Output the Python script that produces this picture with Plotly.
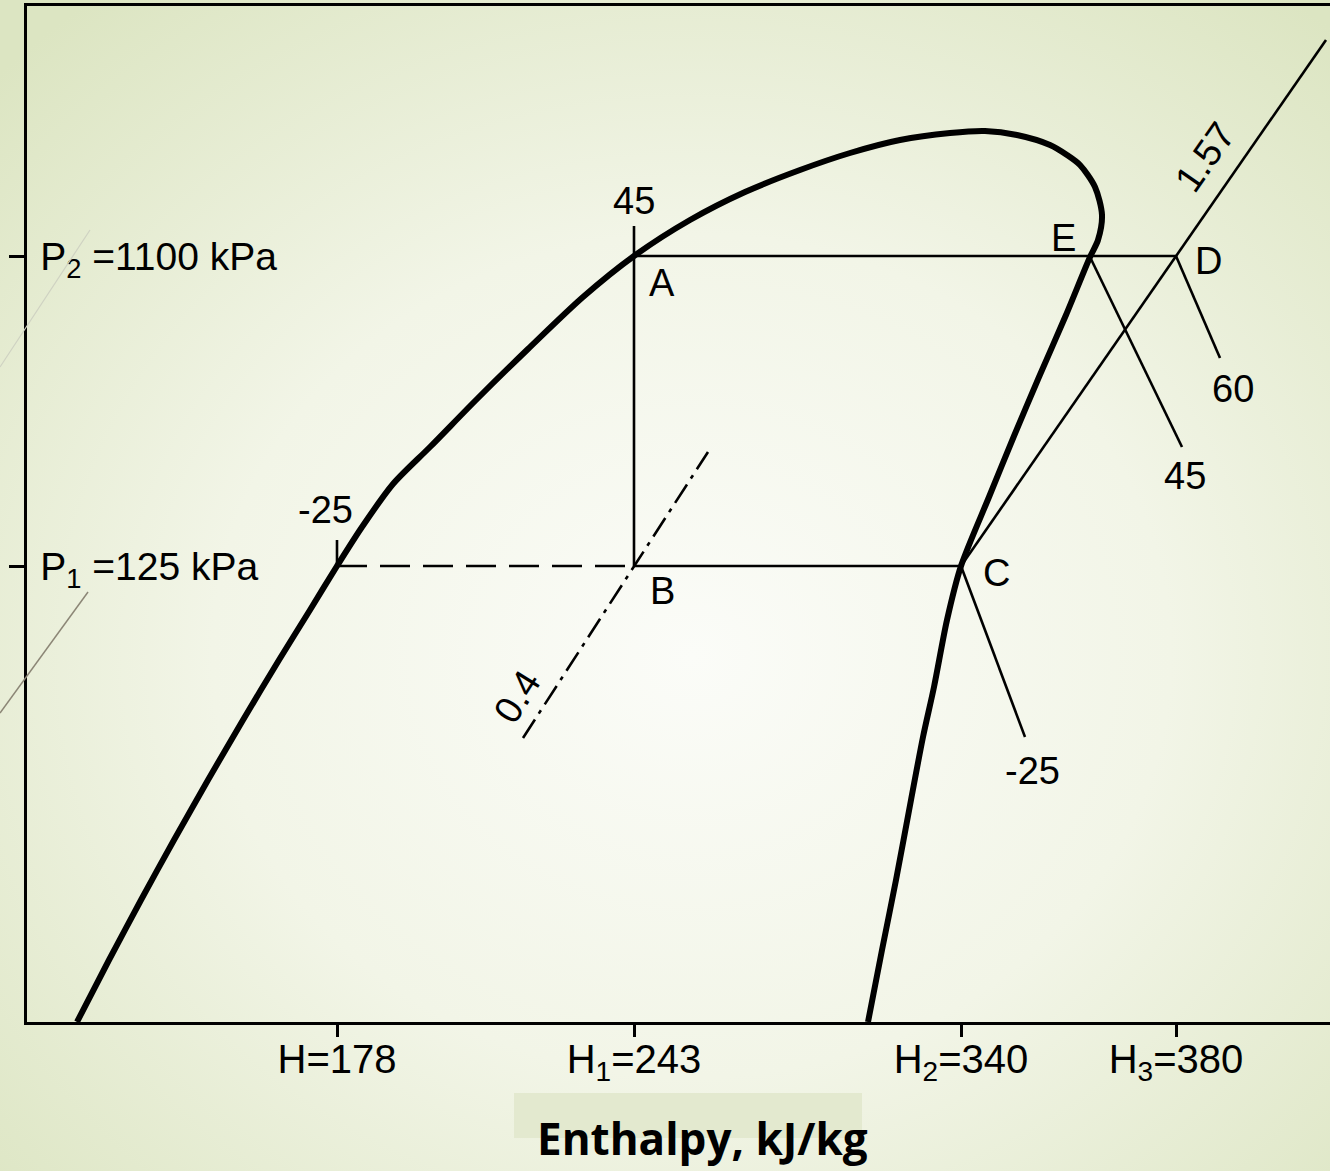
import base64
import plotly.graph_objects as go

# ---------------- data (schematic diagram units) ----------------
H_TICK_POS = [337, 634, 961, 1176]
H_TICK_TEXT = ["H=178", "H<sub>1</sub>=243", "H<sub>2</sub>=340", "H<sub>3</sub>=380"]
P_TICK_POS = [256, 566]
P_TICK_TEXT = ["P<sub>2</sub> =1100 kPa", "P<sub>1</sub> =125 kPa"]

# saturation dome (liquid line -> critical region -> vapour line)
DOME_X = [77, 109, 141, 174, 208, 243, 279, 310, 337, 362, 393, 430, 478, 528,
          583, 634, 690, 745, 800, 850, 900, 950, 985, 1017, 1050, 1067, 1080,
          1095, 1102, 1098, 1090, 1066, 1039, 1014, 989, 961, 947, 934,
          923, 911, 896, 882, 868]
DOME_Y = [1022, 960, 900, 840, 780, 720, 660, 610, 566, 527, 484, 447, 398, 349,
          297, 256, 220, 192, 170, 153, 140, 133, 131, 135, 145, 155, 165,
          187, 215, 240, 257, 315, 377, 436, 497, 566, 620, 687,
          737, 800, 880, 950, 1022]

# cycle state points
STATE_NAMES = ["A", "B", "C", "D", "E"]
STATE_X = [634, 634, 961, 1176, 1090]
STATE_Y = [256, 566, 566, 256, 256]

# auxiliary lines
P2_LINE_X, P2_LINE_Y = [634, 1176], [256, 256]
EXP_LINE_X, EXP_LINE_Y = [634, 634], [226, 566]
P1_DASH_X, P1_DASH_Y = [337, 634], [566, 566]
P1_SOLID_X, P1_SOLID_Y = [634, 961], [566, 566]
TICK25_X, TICK25_Y = [337, 337], [540, 566]
S157_X, S157_Y = [961, 1176, 1326], [566, 256, 40]
T25V_X, T25V_Y = [961, 1025], [566, 737]
T45V_X, T45V_Y = [1090, 1182], [257, 447]
T60_X, T60_Y = [1176, 1220], [256, 358]
Q04_X, Q04_Y = [523, 708], [738, 452]

# text labels
LABEL_TEXT = ["45", "A", "-25", "B", "C", "E", "D", "60", "45", "-25"]
LABEL_X = [634, 662, 325, 662, 996, 1063, 1208, 1233, 1185, 1032]
LABEL_Y = [201, 283, 510, 591, 573, 238, 261, 389, 476, 771]
ROT_TEXT = ["0.4", "1.57"]
ROT_X = [517, 1205]
ROT_Y = [697, 157]
ROT_ANGLE = [-58, -55]

# ---------------- figure ----------------
W, H = 1330, 1171
ML, MR, MT, MB = 27, 0, 6, 149
PW, PH = W - ML - MR, H - MT - MB

FONT = "Liberation Sans, Arial, sans-serif"
THIN = 2.6
THICK = 6

fig = go.Figure()


def seg(x, y, width=THIN, dash="solid"):
    fig.add_trace(go.Scatter(x=x, y=y, mode="lines", hoverinfo="skip",
                             line=dict(color="black", width=width, dash=dash),
                             showlegend=False))


seg(P2_LINE_X, P2_LINE_Y)
seg(EXP_LINE_X, EXP_LINE_Y)
seg(P1_DASH_X, P1_DASH_Y, dash="30px,13px")
seg(P1_SOLID_X, P1_SOLID_Y)
seg(TICK25_X, TICK25_Y)
seg(S157_X, S157_Y)
seg(T25V_X, T25V_Y)
seg(T45V_X, T45V_Y)
seg(T60_X, T60_Y)
seg(Q04_X, Q04_Y, dash="22px,7px,4px,7px")

fig.add_trace(go.Scatter(x=DOME_X, y=DOME_Y, mode="lines", hoverinfo="skip",
                         line=dict(color="black", width=THICK, shape="spline", smoothing=0.8),
                         showlegend=False))

for t, x, y in zip(LABEL_TEXT, LABEL_X, LABEL_Y):
    fig.add_annotation(x=x, y=y, text=t, showarrow=False, xanchor="center", yanchor="middle",
                       font=dict(family=FONT, size=38, color="black"))
for t, x, y, a in zip(ROT_TEXT, ROT_X, ROT_Y, ROT_ANGLE):
    fig.add_annotation(x=x, y=y, text=t, showarrow=False, textangle=a,
                       xanchor="center", yanchor="middle",
                       font=dict(family=FONT, size=38, color="black"))


def px(xp, yp):
    return (xp - ML) / PW, (H - MB - yp) / PH


# x-axis title with highlight box
x0, y0 = px(514, 1138)
x1, y1 = px(862, 1093)
fig.add_shape(type="rect", xref="paper", yref="paper", x0=x0, y0=y0, x1=x1, y1=y1,
              fillcolor="#e3e9cf", line=dict(width=0), layer="below")
tx, ty = px(702, 1138)
fig.add_annotation(xref="paper", yref="paper", x=tx, y=ty, text="<b>Enthalpy, kJ/kg</b>",
                   showarrow=False, xanchor="center", yanchor="middle",
                   font=dict(family="Open Sans, sans-serif", size=44, color="black"))

# decorative slide lines on the left
for (a, b, c, d, col, wd) in [(0, 367, 90, 230, "#cfd2c2", 1.2), (0, 713, 88, 592, "#8c8676", 1.5)]:
    xa, ya = px(a, b)
    xb, yb = px(c, d)
    fig.add_shape(type="line", xref="paper", yref="paper", x0=xa, y0=ya, x1=xb, y1=yb,
                  line=dict(color=col, width=wd), layer="above")

# background gradient
svg = (f'<svg xmlns="http://www.w3.org/2000/svg" width="{W}" height="{H}">'
       '<defs><radialGradient id="g" cx="0.52" cy="0.56" r="0.72">'
       '<stop offset="0" stop-color="#fbfcf8"/>'
       '<stop offset="0.5" stop-color="#f2f5e7"/>'
       '<stop offset="1" stop-color="#dce5c2"/>'
       '</radialGradient></defs>'
       f'<rect width="{W}" height="{H}" fill="url(#g)"/></svg>')
src = "data:image/svg+xml;base64," + base64.b64encode(svg.encode()).decode()
fig.add_layout_image(source=src, xref="paper", yref="paper", x=-ML / PW, y=1 + MT / PH,
                     sizex=W / PW, sizey=H / PH, xanchor="left", yanchor="top",
                     sizing="stretch", layer="below")

fig.update_layout(
    width=W, height=H,
    margin=dict(l=ML, r=MR, t=MT, b=MB, autoexpand=False),
    paper_bgcolor="#f3f6ea",
    plot_bgcolor="rgba(0,0,0,0)",
    showlegend=False,
)
fig.update_xaxes(range=[ML, W], showgrid=False, zeroline=False,
                 showline=True, linecolor="black", linewidth=3, mirror=True,
                 ticks="outside", ticklen=12, tickwidth=3, tickcolor="black",
                 tickvals=H_TICK_POS, ticktext=H_TICK_TEXT, ticklabelstandoff=-12,
                 tickfont=dict(family=FONT, size=40, color="black"))
fig.update_yaxes(range=[H - MB, MT], showgrid=False, zeroline=False,
                 showline=True, linecolor="black", linewidth=3,
                 ticks="outside", ticklen=15, tickwidth=3, tickcolor="black",
                 tickvals=P_TICK_POS, ticktext=P_TICK_TEXT,
                 ticklabelposition="inside", ticklabelstandoff=18,
                 tickfont=dict(family=FONT, size=39, color="black"))

fig.write_html("out.html")
